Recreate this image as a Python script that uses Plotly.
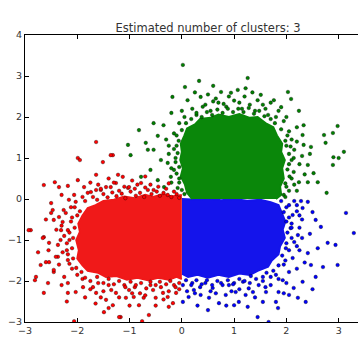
import plotly.graph_objects as go

# ---- data ----
title_text = "Estimated number of clusters: 3"
x_ticks = [-3, -2, -1, 0, 1, 2, 3]
x_tick_labels = ["\u22123", "\u22122", "\u22121", "0", "1", "2", "3"]
y_ticks = [-3, -2, -1, 0, 1, 2, 3, 4]
y_tick_labels = ["\u22123", "\u22122", "\u22121", "0", "1", "2", "3", "4"]

# outlines of the saturated (densely packed) part of each cluster
green_core = [(0.2, 0.0), (0.1, 0.15), (0.06, 0.35), (-0.02, 0.55), (0.02, 0.75), (-0.03, 0.95),
              (0.0, 1.15), (-0.02, 1.35), (0.05, 1.55), (0.1, 1.72), (0.25, 1.82), (0.35, 1.95),
              (0.55, 1.98), (0.7, 2.06), (0.9, 2.0), (1.1, 2.07), (1.3, 1.98), (1.45, 2.0), (1.6, 1.85),
              (1.75, 1.75), (1.82, 1.55), (1.92, 1.35), (1.9, 1.15), (1.97, 0.95), (1.92, 0.75),
              (1.95, 0.5), (1.88, 0.3), (1.9, 0.1), (1.8, 0.0)]
blue_core = [(0.0, 0.0), (0.3, -0.02), (0.5, 0.02), (0.75, -0.03), (1.0, 0.0), (1.25, -0.04), (1.5, -0.02),
             (1.7, -0.08), (1.85, -0.15), (1.92, -0.35), (1.98, -0.55), (1.93, -0.75), (1.97, -0.95),
             (1.88, -1.15), (1.85, -1.35), (1.72, -1.5), (1.65, -1.65), (1.45, -1.75), (1.3, -1.85),
             (1.1, -1.82), (0.9, -1.9), (0.7, -1.85), (0.5, -1.92), (0.3, -1.85), (0.12, -1.9), (0.0, -1.82)]
red_core = [(0.0, 0.1), (-0.2, 0.06), (-0.35, 0.12), (-0.55, 0.05), (-0.7, 0.1), (-0.9, 0.02), (-1.1, 0.06),
            (-1.3, -0.02), (-1.5, -0.05), (-1.65, -0.15), (-1.8, -0.22), (-1.9, -0.4), (-1.98, -0.6),
            (-1.95, -0.8), (-2.02, -1.0), (-1.97, -1.25), (-2.0, -1.45), (-1.9, -1.62), (-1.8, -1.75),
            (-1.6, -1.8), (-1.45, -1.9), (-1.25, -1.88), (-1.05, -1.97), (-0.85, -1.92), (-0.65, -1.98),
            (-0.45, -1.92), (-0.25, -1.97), (-0.1, -1.9), (0.0, -1.95)]

# individually visible points around each cluster
green_points = [
    (0.02, 3.27), (1.26, 2.95), (0.33, 2.88), (0.06, 2.73), (0.6, 2.76), (-0.18, 2.49), (2.03, 2.61),
    (2.09, 2.44), (2.24, 2.15), (1.22, 2.7), (1.07, 2.66), (1.51, 2.54), (0.11, 2.41), (0.36, 2.49),
    (0.75, 2.61), (0.94, 2.59), (1.76, 2.41), (1.9, 2.24), (1.45, 2.41), (-0.54, 1.85), (-0.46, 1.54),
    (-0.69, 1.37), (-0.65, 1.2), (2.33, 1.8), (2.98, 1.78), (2.89, 1.61), (2.72, 1.56), (2.75, 1.37),
    (3.1, 1.15), (2.9, 1.02), (3.0, 1.0), (2.89, 0.83), (2.77, 0.15), (2.6, 0.41), (2.52, 0.63),
    (2.41, 0.83), (2.47, 1.27), (2.33, 1.32), (2.31, 1.56), (2.14, 1.0), (2.24, 0.41), (2.41, 0.41),
    (2.14, 0.66), (-0.82, 1.68), (-1.03, 1.32), (-0.98, 1.07), (-0.54, 1.2), (-0.27, 0.88), (-0.6, 0.71),
    (-0.78, 0.54), (-0.46, 0.46), (-0.21, 0.54), (-0.34, 0.29), (-0.08, 0.27), (-0.15, 0.71), (-0.4, 0.95),
    (0.2, 2.2), (0.45, 2.3), (0.55, 2.15), (0.7, 2.35), (0.85, 2.25), (1.0, 2.4), (1.15, 2.2), (1.3, 2.3),
    (1.4, 2.15), (1.6, 2.2), (1.65, 2.05), (1.8, 2.0), (0.28, 2.05), (0.05, 2.0), (-0.05, 1.85),
    (-0.15, 1.6), (-0.1, 1.3), (-0.25, 1.1), (-0.12, 1.0), (-0.3, 1.45), (0.0, 2.15), (0.9, 2.5),
    (1.2, 2.5), (0.5, 2.55), (1.95, 1.9), (2.05, 1.65), (2.1, 1.45), (2.0, 1.3), (2.15, 1.2), (2.05, 0.85),
    (2.1, 0.5), (2.0, 0.3), (2.2, 0.2), (1.95, 0.1), (2.3, 1.05), (2.2, 1.75), (1.7, 2.35), (0.65, 2.45),
    (0.25, 2.6), (1.35, 2.6), (1.85, 2.15), (2.0, 2.0), (-0.35, 1.8), (-0.2, 2.1), (-0.05, 0.5),
    (-0.2, 0.4), (2.35, 0.6), (2.45, 1.1),
    (0.08, 1.85), (0.18, 1.95), (0.28, 2.1), (0.38, 2.0), (0.48, 2.12), (0.58, 2.05), (0.68, 2.18),
    (0.78, 2.1), (0.88, 2.2), (0.98, 2.12), (1.08, 2.2), (1.18, 2.12), (1.28, 2.22), (1.38, 2.08),
    (1.48, 2.15), (1.58, 2.02), (1.7, 1.95), (1.78, 1.85), (0.4, 2.25), (0.8, 2.32), (1.1, 2.35),
    (1.55, 2.3), (0.6, 2.38), (-0.05, 0.4), (-0.1, 0.62), (-0.05, 0.78), (-0.12, 0.9), (-0.08, 1.12),
    (-0.15, 1.22), (-0.06, 1.42), (-0.1, 1.55), (0.0, 1.68), (-0.2, 0.75), (-0.25, 1.3), (0.05, 0.12),
    (0.0, 0.22), (1.98, 0.05), (2.05, 0.2), (1.98, 0.38), (2.06, 0.55), (2.02, 0.72), (2.1, 0.95),
    (2.05, 1.1), (2.08, 1.28), (1.98, 1.42), (2.02, 1.55), (1.9, 1.7), (2.15, 0.35), (2.25, 0.85),
    (2.2, 1.4),
]
red_points = [
    (-2.79, -1.9), (-2.81, -1.98), (-2.64, -2.29), (-2.56, -2.05), (-2.7, -1.61), (-2.6, -1.54),
    (-2.54, -1.54), (-2.45, -1.78), (-2.37, -1.41), (-2.18, -2.05), (-2.18, -2.29), (-2.03, -2.27),
    (-1.89, -2.15), (-2.06, -2.98), (-1.45, -2.46), (-1.49, -2.76), (-1.4, -2.66), (-1.32, -2.59),
    (-1.17, -2.88), (-1.07, -2.41), (-0.92, -2.39), (-0.82, -2.59), (-0.76, -2.98), (-0.63, -2.83),
    (-0.73, -2.41), (-0.5, -2.41), (-0.27, -2.39), (-0.25, -2.63), (-0.17, -2.54), (-0.36, -2.29),
    (-0.11, -2.29), (-1.64, -2.29), (-1.7, -2.15), (-1.26, -2.29), (-1.01, -2.22), (-0.55, -2.22),
    (-1.2, -2.88), (-2.89, -0.76), (-2.64, -0.93), (-2.5, -0.1), (-2.5, -0.34), (-2.64, 0.34),
    (-2.35, 0.29), (-2.45, -0.51), (-2.28, -0.56), (-2.18, -0.76), (-2.26, -0.27), (-2.16, -0.02),
    (-2.06, 0.1), (-1.87, 0.29), (-1.74, 0.17), (-1.55, 0.22), (-1.36, 0.29), (-1.03, 0.27),
    (-0.78, 0.39), (-0.54, 0.22), (-2.37, -1.12), (-2.41, -1.41), (-2.18, -1.49), (-2.45, -1.73),
    (-2.43, 0.41), (-2.18, 0.32), (-1.99, 0.46), (-1.99, 1.0), (-1.95, 0.95), (-1.32, 1.07),
    (-1.51, 0.9), (-1.64, 0.59), (-1.22, 0.59), (-1.13, 0.54), (-1.26, 0.39), (-1.45, 0.29),
    (-1.64, 0.22), (-1.8, 0.15), (-1.01, 0.29), (-2.66, -0.95), (-2.47, -0.27), (-2.35, -0.44),
    (-2.22, -0.34), (-2.12, -0.2), (-2.03, -0.07), (-2.31, -0.76), (-2.54, -1.07), (-1.64, 1.39),
    (-1.36, 1.07), (-2.93, -0.76), (-2.15, -1.0), (-2.2, -1.25), (-2.1, -1.7), (-2.25, -1.9),
    (-1.9, -1.95), (-1.6, -2.05), (-1.4, -2.1), (-1.1, -2.1), (-0.9, -2.15), (-0.6, -2.1), (-0.4, -2.15),
    (-0.15, -2.1), (-0.05, -2.2), (-1.5, -2.25), (-0.8, -2.3), (-1.2, -2.4), (-0.5, -2.6), (-1.0, -2.6),
    (-1.85, -2.4), (-2.3, -2.1), (-2.35, -1.6), (-2.25, -0.9), (-2.4, -0.75), (-2.1, -0.45), (-1.9, 0.05),
    (-1.6, 0.35), (-1.2, 0.2), (-0.9, 0.25), (-0.6, 0.35), (-0.3, 0.25), (-0.15, 0.18), (-0.7, 0.55),
    (-0.95, 0.45), (-1.4, 0.5), (-1.75, 0.4), (-2.3, 0.1), (-2.6, -0.5), (-2.75, -1.3), (-2.55, -1.25),
    (-2.2, -2.5), (-1.65, -2.55), (-0.35, -2.45),
    (-1.85, -0.05), (-1.7, 0.05), (-1.62, -0.02), (-1.5, 0.12), (-1.42, 0.04), (-1.33, 0.16), (-1.25, 0.07),
    (-1.15, 0.13), (-1.08, 0.02), (-0.98, 0.18), (-0.88, 0.08), (-0.8, 0.15), (-0.72, 0.05), (-0.65, 0.22),
    (-0.58, 0.12), (-0.48, 0.18), (-0.42, 0.08), (-0.35, 0.15), (-0.27, 0.1), (-0.2, 0.05), (-0.1, 0.12),
    (-0.05, 0.03), (-1.55, 0.25), (-1.1, 0.3), (-0.85, 0.35), (-0.45, 0.3), (-1.3, 0.4), (-0.25, 0.38),
    (-0.7, 0.28), (-1.95, -0.3), (-2.05, -0.2), (-2.0, -0.4), (-2.12, -0.55), (-2.05, -0.7), (-2.15, -0.82),
    (-2.08, -0.95), (-2.2, -1.08), (-2.1, -1.2), (-2.18, -1.35), (-2.08, -1.45), (-2.15, -1.58),
    (-2.02, -1.68), (-2.3, -0.65), (-2.32, -1.0), (-2.28, -1.3), (-2.0, -1.85), (-1.92, -1.78),
    (-1.85, -1.92), (-1.75, -2.0), (-1.62, -1.9), (-1.5, -2.05), (-1.4, -1.95), (-1.3, -2.08), (-1.2, -2.0),
    (-1.08, -2.15), (-0.98, -2.02), (-0.88, -2.1), (-0.78, -2.05), (-0.68, -2.18), (-0.6, -2.02),
    (-0.5, -2.1), (-0.42, -2.02), (-0.3, -2.08), (-0.22, -2.0), (-0.12, -2.15), (-0.05, -2.05),
    (-1.35, -2.22), (-0.95, -2.3), (-0.7, -2.35), (-0.25, -2.25), (-1.75, -2.2), (-1.55, -2.4),
]
blue_points = [
    (3.14, -0.34), (3.29, -0.83), (2.79, -1.07), (2.94, -1.12), (2.98, -1.61), (2.7, -1.66), (2.56, -1.9),
    (2.47, -1.61), (2.41, -1.32), (2.66, -0.68), (2.56, -0.51), (2.5, -0.32), (2.41, -0.07), (2.31, -0.22),
    (2.22, -0.88), (2.12, -1.44), (2.31, -2.02), (2.14, -2.17), (2.05, -2.34), (1.93, -1.98), (1.8, -2.51),
    (1.85, -2.27), (1.61, -2.27), (1.55, -2.51), (1.45, -2.88), (1.66, -3.0), (1.36, -2.27), (1.22, -2.34),
    (1.03, -2.27), (1.09, -2.51), (0.84, -2.34), (0.71, -2.54), (0.52, -2.41), (0.5, -2.71), (0.36, -2.34),
    (0.23, -2.22), (0.13, -2.39), (0.02, -2.51), (0.59, -2.17), (0.9, -2.1), (1.17, -2.02), (1.47, -2.1),
    (1.8, -1.85), (2.05, -1.78), (1.99, -1.2), (2.08, -0.71), (2.12, -0.39), (2.05, -0.15), (2.37, -2.51),
    (2.22, -2.41), (1.84, -2.66), (1.0, -2.59), (1.26, -2.63), (2.1, -0.6), (2.15, -1.05), (2.25, -1.25),
    (2.3, -0.5), (2.2, -0.15), (2.35, -1.55), (2.2, -1.7), (1.95, -1.6), (1.7, -1.9), (1.55, -2.0),
    (1.3, -2.05), (1.0, -2.05), (0.75, -2.05), (0.45, -2.05), (0.2, -2.05), (0.1, -2.25), (0.35, -2.15),
    (0.65, -2.3), (1.1, -2.2), (1.4, -2.4), (1.7, -2.1), (2.0, -2.05), (2.45, -0.85), (2.6, -1.2),
    (2.5, -2.2), (0.3, -2.6), (0.85, -2.6), (1.95, -2.3), (2.25, -0.7), (2.2, -0.3),
    (1.9, -0.05), (2.0, -0.2), (1.95, -0.32), (2.05, -0.45), (2.0, -0.55), (2.1, -0.7), (2.02, -0.82),
    (2.1, -0.95), (2.0, -1.08), (2.05, -1.25), (1.92, -1.38), (1.98, -1.5), (1.85, -1.62), (2.25, -0.4),
    (2.3, -0.95), (2.2, -1.15), (2.28, -0.05), (2.15, -0.05), (1.75, -1.75), (1.62, -1.8), (1.55, -1.9),
    (1.42, -1.95), (1.32, -1.88), (1.2, -2.0), (1.1, -1.95), (0.98, -2.08), (0.88, -1.98), (0.78, -2.1),
    (0.68, -2.0), (0.58, -2.1), (0.48, -1.98), (0.38, -2.08), (0.28, -1.98), (0.18, -2.1), (0.08, -1.98),
    (0.02, -2.1), (1.28, -2.18), (0.95, -2.25), (0.55, -2.25), (0.25, -2.3), (1.6, -2.15), (1.85, -1.95),
]

clusters = [
    ("blue", blue_core, blue_points, "rgb(20,20,235)", "#0000ff"),
    ("green", green_core, green_points, "rgb(10,135,10)", "#008000"),
    ("red", red_core, red_points, "rgb(240,25,25)", "#ff0000"),
]

fig = go.Figure()
for name, core, pts, fillc, markc in clusters:
    fig.add_trace(go.Scatter(
        x=[p[0] for p in core], y=[p[1] for p in core], mode="lines", fill="toself",
        fillcolor=fillc, line=dict(color=fillc, width=2), hoverinfo="skip", showlegend=False))
for name, core, pts, fillc, markc in clusters:
    fig.add_trace(go.Scatter(
        x=[p[0] for p in pts], y=[p[1] for p in pts], mode="markers", name=name,
        marker=dict(size=3.6, color=markc, line=dict(color="rgba(0,0,0,0.7)", width=0.5)),
        showlegend=False))

axis_common = dict(showgrid=False, zeroline=False, showline=True, linecolor="black", linewidth=1,
                   ticks="inside", ticklen=4, tickwidth=1, tickcolor="black", automargin=False,
                   tickfont=dict(family="DejaVu Sans", size=9.5, color="#333333"))
fig.update_layout(
    width=358, height=358,
    margin=dict(l=25, r=0, t=35, b=36),
    paper_bgcolor="white", plot_bgcolor="white",
    title=dict(text=title_text, x=208 / 358, xref="container", xanchor="center",
               y=1 - 28 / 358, yref="container", yanchor="middle",
               font=dict(family="DejaVu Sans", size=11.5, color="#333333")),
    xaxis=dict(range=[-3, 3.37], tickvals=x_ticks, ticktext=x_tick_labels, mirror="allticks", **axis_common),
    yaxis=dict(range=[-3, 4], tickvals=y_ticks, ticktext=y_tick_labels, mirror=False, **axis_common),
)
fig.write_html("out.html", config={"displayModeBar": False},
               post_script="document.body.style.margin='0';")
